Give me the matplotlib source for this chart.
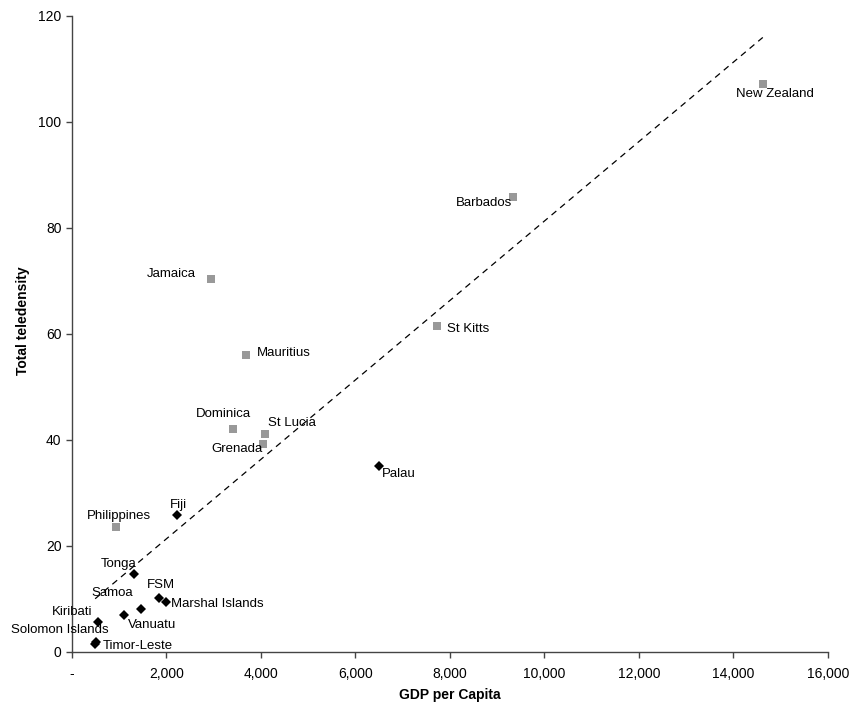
import matplotlib
matplotlib.use("Agg")
import matplotlib.pyplot as plt
from matplotlib.ticker import FuncFormatter, MultipleLocator

plt.rcParams["font.family"] = ["Liberation Sans", "DejaVu Sans"]

# Caribbean / other comparators (grey squares)
grey_names = ["New Zealand", "Barbados", "Jamaica", "St Kitts", "Mauritius",
              "Dominica", "St Lucia", "Grenada", "Philippines"]
grey_gdp = [14620, 9340, 2940, 7720, 3680, 3410, 4085, 4040, 925]
grey_tele = [107.1, 85.8, 70.4, 61.5, 55.9, 42.1, 41.1, 39.2, 23.6]

# Pacific islands (black diamonds)
pac_names = ["Palau", "Fiji", "Tonga", "FSM", "Marshal Islands", "Samoa",
             "Vanuatu", "Kiribati", "Solomon Islands", "Timor-Leste"]
pac_gdp = [6490, 2225, 1312, 1848, 1983, 1453, 1100, 543, 510, 495]
pac_tele = [35.1, 25.8, 14.7, 10.1, 9.4, 8.1, 6.9, 5.7, 1.8, 1.5]

# trend line end points
trend_x = [490, 14620]
trend_y = [10.0, 115.9]

# label offsets in pixels (dx, dy), label left-aligned, vertically centred
grey_off = [(-27, -10), (-57, -6), (-64, 5), (10, -3), (11, 2),
            (-37, 15), (3, 11), (-52, -5), (-29, 11)]
pac_off = [(3, -8), (-7, 10), (-33, 10), (-12, 13), (5, -2), (-49, 16),
           (4, -10), (-46, 10), (-85, 12), (7, -2)]

fig = plt.figure(figsize=(8.5, 7.02), dpi=100)
ax = fig.add_axes([0.0847, 0.0716, 0.8894, 0.906])

ax.plot(trend_x, trend_y, color="black", lw=0.9, ls=(0, (5, 4)))
ax.plot(grey_gdp, grey_tele, "s", color="#999999", ms=5.5, mew=0)
ax.plot(pac_gdp, pac_tele, "D", color="black", ms=4.8, mew=0)

for names, xs, ys, offs in [(grey_names, grey_gdp, grey_tele, grey_off),
                            (pac_names, pac_gdp, pac_tele, pac_off)]:
    for n, x, y, (dx, dy) in zip(names, xs, ys, offs):
        ax.annotate(n, (x, y), xytext=(dx, dy), textcoords="offset pixels",
                    ha="left", va="center", fontsize=9.5)

ax.set_xlim(0, 16000)
ax.set_ylim(0, 120)
ax.xaxis.set_major_locator(MultipleLocator(2000))
ax.yaxis.set_major_locator(MultipleLocator(20))
ax.xaxis.set_major_formatter(FuncFormatter(lambda v, p: "-" if v == 0 else f"{int(v):,}"))
ax.yaxis.set_major_formatter(FuncFormatter(lambda v, p: f"{int(v)}"))

for s in ["top", "right"]:
    ax.spines[s].set_visible(False)
for s in ["left", "bottom"]:
    ax.spines[s].set_color("#444444")
    ax.spines[s].set_linewidth(1.0)
ax.tick_params(direction="out", length=4, width=1, colors="#444444",
               labelcolor="black", labelsize=10)
ax.tick_params(axis="x", pad=7)

ax.set_xlabel("GDP per Capita", fontsize=10, fontweight="bold", labelpad=5)
ax.set_ylabel("Total teledensity", fontsize=10, fontweight="bold",
              family=["Liberation Sans Narrow", "Liberation Sans"])
ax.yaxis.set_label_coords(-0.055, 0.52)

fig.savefig("out.png", dpi=100)
